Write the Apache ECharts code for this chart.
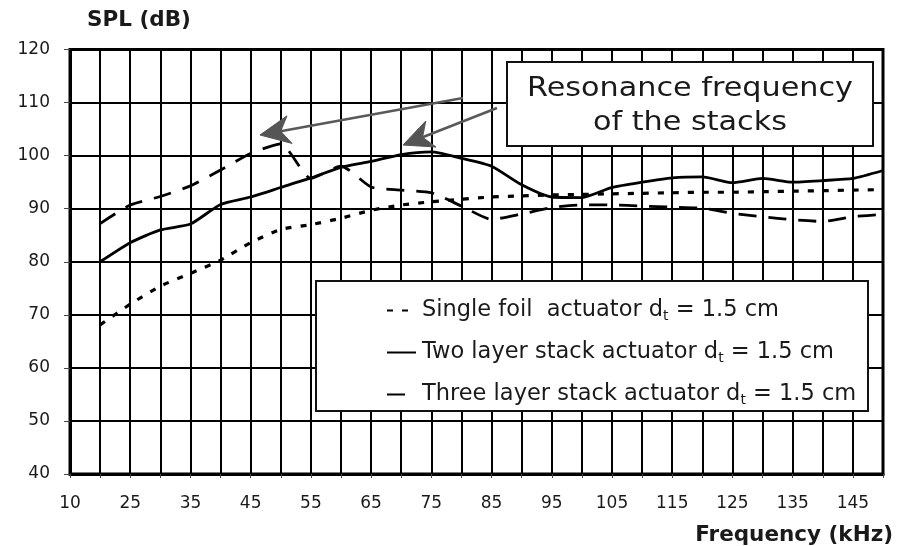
<!DOCTYPE html>
<html>
<head>
<meta charset="utf-8">
<script src="https://cdn.jsdelivr.net/npm/echarts@6/dist/echarts.min.js"></script>
<style>
html,body{margin:0;padding:0;background:#fff;}
#chart{width:904px;height:546px;}
</style>
</head>
<body>
<div id="chart"></div>
<script>
// Frequency categories (kHz) – first slot 10 carries no data
var frequencies = [10,20,25,30,35,40,45,50,55,60,65,70,75,80,85,90,95,100,105,110,115,120,125,130,135,140,145,150];
var singleFoil = [null,68.1,72,75.4,77.8,80.3,83.6,86.1,87,88.2,89.7,90.7,91.3,91.8,92.2,92.4,92.6,92.7,92.8,92.9,93,93.1,93.1,93.2,93.3,93.4,93.5,93.6];
var twoLayer = [null,80,83.6,86,87.1,90.8,92.2,94,95.8,97.8,98.9,100.2,100.7,99.5,98,94.5,92.2,92.1,94,95,95.8,96,94.9,95.7,95,95.3,95.7,97.2];
var threeLayer = [null,87.2,90.7,92.3,94.3,97.3,100.4,102.2,95.7,98,94.1,93.5,93,90.5,88,89,90.2,90.7,90.7,90.5,90.3,90.1,89.1,88.5,87.9,87.6,88.5,88.9];
var seriesNames = ['Single foil  actuator d_t = 1.5 cm','Two layer stack actuator d_t = 1.5 cm','Three layer stack actuator d_t = 1.5 cm'];
var yTicks = {min:40, max:120, step:10};
var annotationLines = ['Resonance frequency','of the stacks'];

var chart = echarts.init(document.getElementById('chart'));
var FONT = 'DejaVu Sans';
var TXT = '#1a1a1a';

function arrow(sx, sy, tx, ty) {
  var dx = sx - tx, dy = sy - ty, L = Math.sqrt(dx*dx+dy*dy);
  var ux = dx/L, uy = dy/L, px = -uy, py = ux;
  var hl = 30, hw = 14, nl = 21;
  var bx = tx + ux*hl, by = ty + uy*hl;
  var nx = tx + ux*nl, ny = ty + uy*nl;
  return [
    {type:'line', z:40, shape:{x1:sx,y1:sy,x2:nx,y2:ny}, style:{stroke:'#595959', lineWidth:2.6}},
    {type:'polygon', z:41, shape:{points:[[tx,ty],[bx+px*hw,by+py*hw],[nx,ny],[bx-px*hw,by-py*hw]]}, style:{fill:'#555555', stroke:'#555555', lineWidth:1}}
  ];
}

var graphics = [
  {type:'rect', z:30, shape:{x:507,y:62,width:366,height:84}, style:{fill:'#fff', stroke:'#111', lineWidth:2}},
  {type:'text', z:31, x:690, y:89, scaleX:1.12, style:{text:annotationLines[0], font:'27px "DejaVu Sans"', fill:TXT, align:'center', verticalAlign:'middle'}},
  {type:'text', z:31, x:690, y:123, scaleX:1.12, style:{text:annotationLines[1], font:'27px "DejaVu Sans"', fill:TXT, align:'center', verticalAlign:'middle'}},
  {type:'rect', z:30, shape:{x:316,y:281,width:552,height:130}, style:{fill:'#fff', stroke:'#111', lineWidth:2}}
].concat(arrow(463,98,260,135)).concat(arrow(497,108,403,145));

function mkSeries(name, data, width, dash) {
  return {
    name: name, type: 'line', data: data, showSymbol: false, symbol: 'none',
    smooth: 0.2, connectNulls: false, z: 20,
    lineStyle: {color:'#000', width: width, type: dash, cap:'butt'},
    itemStyle: {color:'#000'}
  };
}

var option = {
  backgroundColor: '#fff',
  animation: false,
  grid: {left:70, right:21, top:49.5, bottom:72, show:true, borderColor:'#000', borderWidth:3, backgroundColor:'transparent'},
  xAxis: {
    type:'category', data: frequencies, boundaryGap:false,
    name:'Frequency (kHz)', nameLocation:'end', nameGap:10,
    nameTextStyle:{fontFamily:FONT, fontWeight:'bold', fontSize:21.5, color:TXT, align:'right', verticalAlign:'top', padding:[50,0,0,0]},
    axisLine:{lineStyle:{color:'#000', width:3}},
    axisTick:{show:true, interval:0, length:4, lineStyle:{color:'#444', width:1}},
    splitLine:{show:true, interval:0, lineStyle:{color:'#000', width:2}},
    axisLabel:{interval:1, margin:21, fontFamily:FONT, fontSize:17, color:TXT}
  },
  yAxis: {
    type:'value', min:yTicks.min, max:yTicks.max, interval:yTicks.step,
    name:'SPL (dB)', nameLocation:'end', nameGap:18,
    nameTextStyle:{fontFamily:FONT, fontWeight:'bold', fontSize:21.5, color:TXT, align:'left', padding:[0,0,0,17]},
    axisLine:{show:true, lineStyle:{color:'#000', width:3}},
    axisTick:{show:true, length:6, lineStyle:{color:'#444', width:1}},
    splitLine:{show:true, lineStyle:{color:'#000', width:2}},
    axisLabel:{margin:20, fontFamily:FONT, fontSize:17, color:TXT}
  },
  legend: {
    show:true, orient:'vertical', left:381, top:294, z:50,
    itemWidth:29, itemHeight:12, itemGap:17.5,
    itemStyle:{opacity:0},
    data: seriesNames,
    formatter: function(n){ return n.replace('d_t', 'd{sub|t}'); },
    textStyle:{fontFamily:FONT, fontSize:22.5, color:TXT, padding:[0,0,0,1],
      rich:{sub:{fontFamily:FONT, fontSize:14, color:TXT, padding:[12,0,0,0]}}}
  },
  graphic: graphics,
  series: [
    mkSeries(seriesNames[0], singleFoil, 3.2, [6,9]),
    mkSeries(seriesNames[1], twoLayer, 2.8, 'solid'),
    mkSeries(seriesNames[2], threeLayer, 2.8, [18,12])
  ]
};
chart.setOption(option);
</script>
</body>
</html>
